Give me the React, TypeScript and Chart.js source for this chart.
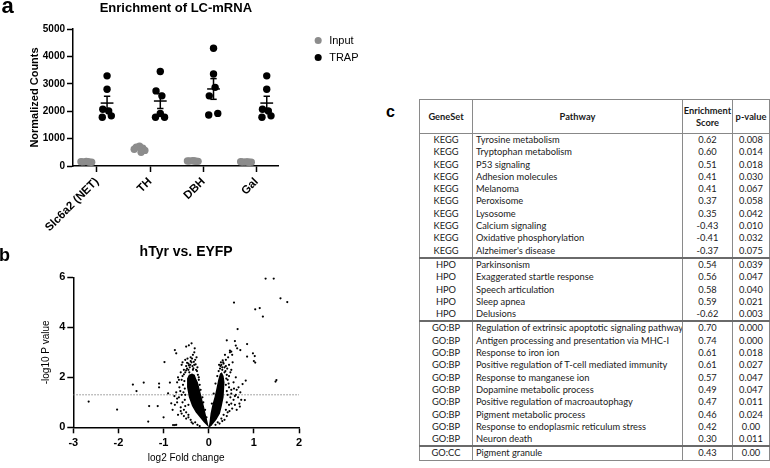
import React, { useEffect, useRef } from 'react';
import { Chart, registerables } from 'chart.js';

Chart.register(...registerables);

const FONT = "'Liberation Sans', Arial, sans-serif";
const TABLE_FONT = "Lato, 'Liberation Sans', sans-serif";

// ---------- Panel a data ----------
const genes = ['Slc6a2 (NET)', 'TH', 'DBH', 'Gal'];
const inputNET = [165, 150, 140, 158, 135, 160];
const inputTH = [720, 690, 650, 610, 570, 500];
const inputDBH = [190, 180, 175, 185, 170, 182];
const inputGal = [150, 145, 135, 155, 140, 150];
const trapNET = [3290, 2800, 2070, 2010, 1780, 1830];
const trapTH = [3450, 1920, 2740, 2560, 1780, 1780];
const trapDBH = [4300, 3360, 2560, 2870, 1860, 1920];
const trapGal = [3290, 2800, 2070, 2010, 1780, 1830];
const inputCounts = [inputNET, inputTH, inputDBH, inputGal];
const trapCounts = [trapNET, trapTH, trapDBH, trapGal];
const countTicks = [0, 1000, 2000, 3000, 4000, 5000];

// swarm offsets (layout only)
const inputJitter = [-0.2, -0.26, -0.14, -0.3, -0.1, -0.17];
const trapJitter = [0.19, 0.19, 0.11, 0.22, 0.1, 0.27];
const trapCenter = 0.19;

// ---------- Panel b data ----------
const pThreshold = 1.3;
const fcTicks = [-3, -2, -1, 0, 1, 2];
const pTicks = [0, 2, 4, 6];
// dense core of the left / right wings (envelope of overlapping points)
const coreLeftFC = [0, -0.11, -0.2, -0.29, -0.37, -0.44, -0.48, -0.48, -0.44, -0.37, -0.31, -0.28, -0.24, -0.19, -0.15, -0.1, -0.07, -0.03, 0];
const coreLeftP = [0, 0.2, 0.4, 0.6, 0.85, 1.2, 1.6, 1.95, 2.1, 2.15, 2.1, 1.95, 1.8, 1.45, 1.15, 0.8, 0.55, 0.25, 0];
const coreRightFC = [0, 0.02, 0.04, 0.08, 0.13, 0.17, 0.21, 0.25, 0.29, 0.33, 0.35, 0.34, 0.33, 0.29, 0.25, 0.17, 0.08, 0];
const coreRightP = [0, 0.25, 0.55, 0.9, 1.22, 1.55, 1.9, 2.15, 2.2, 2.05, 1.8, 1.5, 1.2, 0.85, 0.55, 0.3, 0.1, 0];
const fringeLeft: [number, number][] = [
  [-0.55, 2.3], [-0.6, 2.5], [-0.52, 2.7], [-0.45, 2.55], [-0.4, 2.8], [-0.35, 2.9], [-0.32, 3.0], [-0.62, 2.2],
  [-0.68, 2.0], [-0.7, 1.8], [-0.6, 1.9], [-0.65, 1.6], [-0.72, 1.4], [-0.6, 1.3], [-0.66, 1.2], [-0.58, 1.0],
  [-0.7, 1.0], [-0.62, 0.8], [-0.55, 0.7], [-0.5, 0.6], [-0.45, 0.5], [-0.6, 0.55], [-0.4, 0.3], [-0.5, 0.35],
  [-0.3, 0.2], [-0.35, 0.15], [-0.25, 0.1], [-0.62, 0.65], [-0.75, 0.9], [-0.8, 0.7], [-0.68, 0.5], [-0.55, 0.45],
  [-0.42, 2.4], [-0.38, 2.6], [-0.28, 2.3], [-0.25, 2.4], [-0.22, 1.9], [-0.2, 1.7], [-0.18, 1.5], [-0.14, 1.2],
  [-0.58, 2.05], [-0.52, 2.2], [-0.48, 2.35], [-0.43, 2.2], [-0.35, 2.3], [-0.32, 2.5], [-0.57, 1.7], [-0.63, 1.45],
  [-0.53, 1.1], [-0.45, 0.9], [-0.7, 1.15], [-0.76, 1.25], [-0.66, 1.9], [-0.58, 2.6], [-0.47, 2.75], [-0.3, 2.7],
  [-0.27, 2.8], [-0.45, 0.4], [-0.38, 0.2], [-0.2, 0.05], [-0.52, 0.85], [-0.56, 1.4], [-0.54, 1.85], [-0.5, 2.45],
  [-0.36, 2.45], [-0.4, 2.65], [-0.24, 2.1], [-0.12, 1.0], [-0.08, 0.7], [-0.05, 0.4],
  [-0.44, 2.48], [-0.33, 2.62], [-0.29, 2.52], [-0.37, 2.75], [-0.5, 2.28], [-0.55, 2.12], [-0.26, 2.25],
  [-0.22, 2.0], [-0.45, 2.3], [-0.41, 2.5], [-0.48, 2.58], [-0.34, 2.36], [-0.53, 1.55], [-0.52, 1.3],
];
const fringeRight: [number, number][] = [
  [0.3, 2.4], [0.32, 2.6], [0.28, 2.5], [0.35, 2.2], [0.4, 2.1], [0.42, 1.9], [0.38, 1.7], [0.45, 1.6],
  [0.5, 1.5], [0.42, 1.3], [0.48, 1.2], [0.4, 1.0], [0.45, 0.9], [0.5, 0.95], [0.38, 0.7], [0.42, 0.6],
  [0.33, 0.5], [0.28, 0.35], [0.2, 0.2], [0.15, 0.1], [0.55, 1.1], [0.6, 1.3], [0.55, 1.8], [0.6, 2.0],
  [0.48, 2.2], [0.45, 2.5], [0.38, 2.7], [0.5, 2.3], [0.62, 1.5], [0.66, 1.6], [0.58, 0.9], [0.52, 0.75],
  [0.65, 1.2], [0.7, 1.4], [0.36, 2.9], [0.43, 2.8], [0.47, 3.0], [0.52, 2.9], [0.53, 2.6], [0.25, 2.35],
  [0.22, 2.25], [0.19, 2.05], [0.15, 1.75], [0.11, 1.35], [0.07, 0.95], [0.45, 2.05], [0.56, 1.55], [0.4, 1.45],
  [0.4, 0.45], [0.3, 0.25], [0.72, 1.1], [0.68, 0.95], [0.62, 0.7], [0.44, 1.75], [0.41, 2.35], [0.33, 2.55],
  [0.27, 2.6], [0.24, 0.15], [0.35, 0.3], [0.46, 0.65], [0.5, 1.35], [0.58, 1.25], [0.05, 0.1], [0.02, 0.05],
  [0.3, 2.3], [0.26, 2.45], [0.35, 2.4], [0.31, 2.68], [0.38, 2.45], [0.39, 1.95], [0.37, 2.25], [0.23, 2.5],
];
const outliers: [number, number][] = [
  [1.26, 5.95], [1.44, 5.95], [1.59, 5.16], [1.74, 5.01], [0.56, 4.99], [1.03, 4.72], [1.13, 4.77], [1.2, 4.43],
  [0.64, 3.93], [0.4, 3.48], [0.58, 3.45], [0.85, 3.33], [0.6, 3.27], [0.63, 3.16], [0.7, 3.09], [0.47, 3.07],
  [0.5, 3.03], [0.85, 2.83], [0.98, 2.96], [1.02, 2.85], [1.0, 2.65], [1.03, 2.59], [1.5, 1.89], [1.48, 1.83],
  [0.82, 1.87], [0.75, 1.73], [0.8, 1.09], [0.69, 0.83],
  [-2.66, 1.03], [-2.03, 0.71], [-1.68, 1.71], [-1.6, 1.45], [-1.44, 1.79], [-1.32, 0.85], [-1.13, 0.85],
  [-1.1, 1.75], [-1.1, 1.6], [-0.98, 2.61], [-1.0, 0.4], [-1.34, 0.23], [-0.75, 3.09], [-0.72, 2.96],
  [-0.79, 0.09], [-0.75, 0.09], [-0.72, 0.1], [-0.5, 3.23], [-0.38, 3.36], [-0.44, 3.28], [-0.31, 3.16],
  [-0.86, 1.79], [-0.83, 0.96], [-0.9, 1.36],
];

// ---------- Panel c data ----------
const geneSets = ['KEGG', 'KEGG', 'KEGG', 'KEGG', 'KEGG', 'KEGG', 'KEGG', 'KEGG', 'KEGG', 'KEGG',
  'HPO', 'HPO', 'HPO', 'HPO', 'HPO',
  'GO:BP', 'GO:BP', 'GO:BP', 'GO:BP', 'GO:BP', 'GO:BP', 'GO:BP', 'GO:BP', 'GO:BP', 'GO:BP', 'GO:CC'];
const pathways = ['Tyrosine metabolism', 'Tryptophan metabolism', 'P53 signaling', 'Adhesion molecules', 'Melanoma',
  'Peroxisome', 'Lysosome', 'Calcium signaling', 'Oxidative phosphorylation', "Alzheimer's disease",
  'Parkinsonism', 'Exaggerated startle response', 'Speech articulation', 'Sleep apnea', 'Delusions',
  'Regulation of extrinsic apoptotic signaling pathway', 'Antigen processing and presentation via MHC-I',
  'Response to iron ion', 'Positive regulation of T-cell mediated immunity', 'Response to manganese ion',
  'Dopamine metabolic process', 'Positive regulation of macroautophagy', 'Pigment metabolic process',
  'Response to endoplasmic reticulum stress', 'Neuron death', 'Pigment granule'];
const scores = ['0.62', '0.60', '0.51', '0.41', '0.41', '0.37', '0.35', '-0.43', '-0.41', '-0.37',
  '0.54', '0.56', '0.58', '0.59', '-0.62',
  '0.70', '0.74', '0.61', '0.61', '0.57', '0.49', '0.47', '0.46', '0.42', '0.30', '0.43'];
const pvalues = ['0.008', '0.014', '0.018', '0.030', '0.067', '0.058', '0.042', '0.010', '0.032', '0.075',
  '0.039', '0.047', '0.040', '0.021', '0.003',
  '0.000', '0.000', '0.018', '0.027', '0.047', '0.047', '0.011', '0.024', '0.00', '0.011', '0.00'];

const mean = (a: number[]) => a.reduce((s, v) => s + v, 0) / a.length;
const sem = (a: number[]) => {
  const m = mean(a);
  const v = a.reduce((s, x) => s + (x - m) * (x - m), 0) / (a.length - 1);
  return Math.sqrt(v / a.length);
};

const meanSemPlugin = {
  id: 'meanSem',
  afterDatasetsDraw(chart: any) {
    const { ctx } = chart;
    const xs = chart.scales.x;
    const ys = chart.scales.y;
    ctx.save();
    ctx.strokeStyle = '#000';
    ctx.lineWidth = 1.5;
    trapCounts.forEach((vals, gi) => {
      const m = mean(vals);
      const e = sem(vals);
      const c = gi + trapCenter;
      const seg = (x1: number, y1: number, x2: number, y2: number) => {
        ctx.beginPath();
        ctx.moveTo(xs.getPixelForValue(x1), ys.getPixelForValue(y1));
        ctx.lineTo(xs.getPixelForValue(x2), ys.getPixelForValue(y2));
        ctx.stroke();
      };
      seg(c - 0.12, m, c + 0.12, m);
      seg(c, m - e, c, m + e);
      seg(c - 0.06, m + e, c + 0.06, m + e);
      seg(c - 0.06, m - e, c + 0.06, m - e);
    });
    ctx.restore();
  },
};

const axisCommon = {
  grid: { drawOnChartArea: false, drawTicks: true, tickLength: 6, color: '#000', tickWidth: 1.5 },
  border: { color: '#000', width: 1.5 },
};

function PanelA() {
  const ref = useRef<HTMLCanvasElement>(null);
  useEffect(() => {
    const inputPts = inputCounts.flatMap((vals, gi) => vals.map((v, k) => ({ x: gi + inputJitter[k], y: v })));
    const trapPts = trapCounts.flatMap((vals, gi) => vals.map((v, k) => ({ x: gi + trapJitter[k], y: v })));
    const chart = new Chart(ref.current!, {
      type: 'scatter',
      data: {
        datasets: [
          { label: 'Input', data: inputPts, backgroundColor: '#8c8c8c', borderColor: '#8c8c8c', borderWidth: 0, pointRadius: 3.7, pointStyle: 'circle' },
          { label: 'TRAP', data: trapPts, backgroundColor: '#000', borderColor: '#000', borderWidth: 0, pointRadius: 3.7, pointStyle: 'circle' },
        ],
      },
      options: {
        responsive: false,
        animation: false,
        events: [],
        layout: { padding: { left: 20, right: 16, top: 0, bottom: 0 } },
        plugins: {
          title: { display: true, text: 'Enrichment of LC-mRNA', color: '#000', font: { family: FONT, size: 13, weight: 'bold' }, padding: { top: 0.5, bottom: 12.9 }, fullSize: false },
          legend: {
            position: 'right', align: 'start', fullSize: false,
            labels: { usePointStyle: true, boxWidth: 11, boxHeight: 5, padding: 6, color: '#000', font: { family: FONT, size: 11 } },
          },
          tooltip: { enabled: false },
        },
        scales: {
          x: {
            type: 'linear', min: -0.45, max: 3.414,
            afterBuildTicks: (s: any) => { s.ticks = genes.map((_, i) => ({ value: i })); },
            ticks: { autoSkip: false, minRotation: 45, maxRotation: 45, padding: 3, color: '#000', font: { family: FONT, size: 11.5, weight: 'bold' }, callback: (v: any) => genes[v] ?? '' },
            afterFit: (s: any) => { s.height = 66; },
            ...axisCommon,
          },
          y: {
            type: 'linear', min: 0, max: 5000,
            afterBuildTicks: (s: any) => { s.ticks = countTicks.map((v) => ({ value: v })); },
            ticks: { padding: 2, color: '#000', font: { family: FONT, size: 10, weight: 'bold' }, callback: (v: any) => String(v) },
            title: { display: true, text: 'Normalized Counts', color: '#000', font: { family: FONT, size: 11, weight: 'bold' }, padding: { top: 8, bottom: 0 } },
            afterFit: (s: any) => { s.width = 53; },
            ...axisCommon,
          },
          yPad: {
            type: 'linear', position: 'right', display: true,
            grid: { display: false }, border: { display: false }, ticks: { display: false },
            afterFit: (s: any) => { s.width = 28; },
          },
        },
      } as any,
      plugins: [meanSemPlugin],
    });
    return () => chart.destroy();
  }, []);
  return <canvas ref={ref} width={380} height={232} style={{ position: 'absolute', left: 0, top: 0, width: 380, height: 232 }} />;
}

function PanelB() {
  const ref = useRef<HTMLCanvasElement>(null);
  useEffect(() => {
    const toPts = (xs: number[], ys: number[]) => xs.map((x, i) => ({ x, y: ys[i] }));
    const pts = [...fringeLeft, ...fringeRight, ...outliers].map(([x, y]) => ({ x, y }));
    const coreStyle = { type: 'line', fill: 'shape', backgroundColor: '#000', borderColor: '#000', borderWidth: 0, pointRadius: 0, tension: 0, order: 2 };
    const chart = new Chart(ref.current!, {
      type: 'scatter',
      data: {
        datasets: [
          { type: 'line', label: 'threshold', data: [{ x: fcTicks[0], y: pThreshold }, { x: fcTicks[fcTicks.length - 1], y: pThreshold }], borderColor: '#8a8a8a', borderWidth: 1, borderDash: [1.5, 1.5], pointRadius: 0, fill: false, order: 3 },
          { ...coreStyle, label: 'coreL', data: toPts(coreLeftFC, coreLeftP) },
          { ...coreStyle, label: 'coreR', data: toPts(coreRightFC, coreRightP) },
          { label: 'genes', data: pts, backgroundColor: '#000', borderColor: '#000', borderWidth: 0, pointRadius: 1.1, order: 1 },
        ] as any,
      },
      options: {
        responsive: false,
        animation: false,
        events: [],
        layout: { padding: { left: 30, right: 81, top: 0, bottom: 0 } },
        plugins: {
          title: { display: true, text: 'hTyr vs. EYFP', color: '#000', font: { family: FONT, size: 14, weight: 'bold' }, padding: { top: 11.6, bottom: 16.9 }, fullSize: false },
          legend: { display: false },
          tooltip: { enabled: false },
        },
        scales: {
          x: {
            type: 'linear', min: -3, max: 2,
            afterBuildTicks: (s: any) => { s.ticks = fcTicks.map((v) => ({ value: v })); },
            ticks: { padding: 3, color: '#000', font: { family: FONT, size: 11, weight: 'bold' } },
            title: { display: true, text: 'log2 Fold change', color: '#000', font: { family: FONT, size: 10 }, padding: { top: 0, bottom: 3.4 } },
            afterFit: (s: any) => { s.height = 40.7; },
            ...axisCommon,
          },
          y: {
            type: 'linear', min: 0, max: 6,
            afterBuildTicks: (s: any) => { s.ticks = pTicks.map((v) => ({ value: v })); },
            ticks: { padding: 2, color: '#000', font: { family: FONT, size: 11, weight: 'bold' } },
            title: { display: true, text: '-log10 P value', color: '#000', font: { family: FONT, size: 10 }, padding: { top: 10, bottom: 0 } },
            afterFit: (s: any) => { s.width = 43.3; },
            ...axisCommon,
          },
        },
      } as any,
    });
    return () => chart.destroy();
  }, []);
  return <canvas ref={ref} width={380} height={236} style={{ position: 'absolute', left: 0, top: 232, width: 380, height: 236 }} />;
}

function PanelC() {
  const cell: React.CSSProperties = {
    borderLeft: '1px solid #8a8a8a', padding: 0, height: 12.3, lineHeight: '12.3px',
    whiteSpace: 'nowrap', overflow: 'hidden', color: '#1a1a1a',
  };
  const headCell: React.CSSProperties = { ...cell, fontWeight: 'bold', textAlign: 'center', height: 33, lineHeight: '12px', borderBottom: '1px solid #888' };
  return (
    <table style={{
      position: 'absolute', left: 419, top: 99, width: 350, borderCollapse: 'collapse', tableLayout: 'fixed',
      border: '1px solid #888', fontFamily: TABLE_FONT, fontSize: 9.3,
    }}>
      <colgroup>
        <col style={{ width: 53 }} />
        <col style={{ width: 210 }} />
        <col style={{ width: 50 }} />
        <col style={{ width: 37 }} />
      </colgroup>
      <thead>
        <tr>
          <th style={headCell}>GeneSet</th>
          <th style={headCell}>Pathway</th>
          <th style={headCell}>Enrichment<br />Score</th>
          <th style={headCell}>p-value</th>
        </tr>
      </thead>
      <tbody>
        {pathways.map((p, i) => {
          const sep = i > 0 && geneSets[i] !== geneSets[i - 1];
          const rowTop: React.CSSProperties = sep ? { borderTop: '2px solid #6a6a6a' } : {};
          return (
            <tr key={i}>
              <td style={{ ...cell, ...rowTop, textAlign: 'center' }}>{geneSets[i]}</td>
              <td style={{ ...cell, ...rowTop, textAlign: 'left', paddingLeft: 3 }}>{p}</td>
              <td style={{ ...cell, ...rowTop, textAlign: 'center' }}>{scores[i]}</td>
              <td style={{ ...cell, ...rowTop, textAlign: 'center' }}>{pvalues[i]}</td>
            </tr>
          );
        })}
      </tbody>
    </table>
  );
}

export default function App() {
  const label = (t: string, left: number, top: number, size: number): React.ReactElement => (
    <div style={{ position: 'absolute', left, top, fontFamily: FONT, fontWeight: 'bold', fontSize: size, lineHeight: 1, color: '#000' }}>{t}</div>
  );
  return (
    <div style={{ position: 'absolute', left: 0, top: 0, width: 770, height: 468, background: '#fff', overflow: 'hidden' }}>
      <PanelA />
      <PanelB />
      <PanelC />
      {label('a', 1.5, -4.6, 22)}
      {label('b', -1, 245.8, 18)}
      {label('c', 386, 103.5, 16)}
    </div>
  );
}
